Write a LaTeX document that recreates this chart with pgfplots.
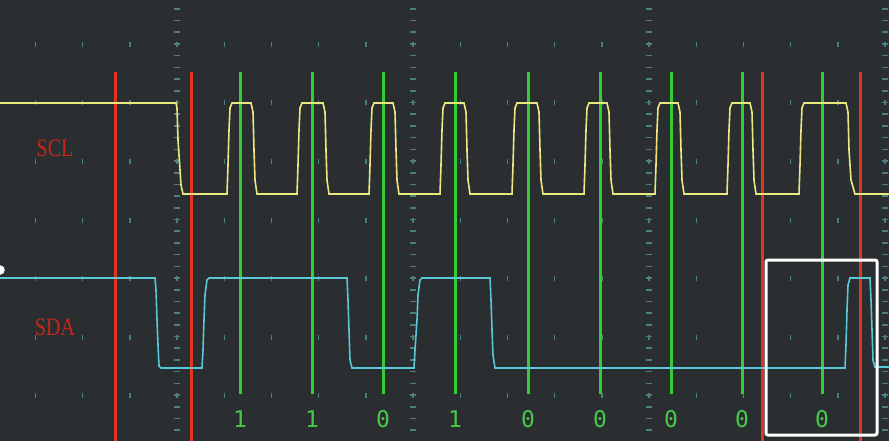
\documentclass[border=0pt]{standalone}
\usepackage{pgfplots}
\pgfplotsset{compat=1.18}
\usepackage{fontspec}
\setmainfont{Liberation Serif}
\newfontfamily\monofont{DejaVu Sans Mono}
\definecolor{bgc}{RGB}{42,46,48}
\definecolor{gridc}{RGB}{76,128,124}
\definecolor{sclc}{RGB}{236,232,128}
\definecolor{sdac}{RGB}{88,200,214}
\definecolor{redc}{RGB}{226,52,30}
\definecolor{greenc}{RGB}{52,206,52}
\definecolor{labred}{RGB}{200,38,30}
\definecolor{labgreen}{RGB}{72,200,72}
\begin{document}
\begin{tikzpicture}
\begin{axis}[width=889pt, height=441pt, scale only axis,
  xmin=0, xmax=889, ymin=0, ymax=441, y dir=reverse,
  axis line style={draw=none}, ticks=none,
  axis background/.style={fill=bgc},
  clip marker paths=true]
% minor grid ticks
\pgfplotsinvokeforeach{35.4,82.6,129.8,177,224.2,271.4,318.6,365.8,413,460.2,507.4,554.6,601.8,649,696.2,743.4,790.6,837.8,885}{
  \addplot[gridc, line width=1.4pt, dash pattern=on 5pt off 53.5pt] coordinates {(#1,-16.5) (#1,460)};
}
% major dashed lines
\pgfplotsinvokeforeach{177,413,649,885}{
  \addplot[gridc, line width=6pt, dash pattern=on 1.6pt off 10.1pt] coordinates {(#1,-3.6) (#1,460)};
}
% red cursors
\pgfplotsinvokeforeach{115,191,762,860}{
  \addplot[redc, line width=3pt] coordinates {(#1,72) (#1,445)};
}
% green sampling lines
\pgfplotsinvokeforeach{240,312,383,455,528,600,671,742,822}{
  \addplot[greenc, line width=3pt] coordinates {(#1,72) (#1,394)};
}
% SCL
\addplot[sclc, line width=1.6pt] coordinates {
(0,103) (176,103) (177,108) (178,140) (180,170) (181,185) (183,194)
(227,194) (228,165) (229,130) (230,108) (232,103) (251,103) (253,112) (254,150) (255,180) (257,194)
(297,194) (298,165) (299,130) (300,108) (302,103) (323,103) (325,112) (326,150) (327,180) (329,194)
(369,194) (370,165) (371,130) (372,108) (374,103) (393,103) (395,112) (396,150) (397,180) (399,194)
(440,194) (441,165) (442,130) (443,108) (445,103) (464,103) (466,112) (467,150) (468,180) (470,194)
(512,194) (513,165) (514,130) (515,108) (517,103) (537,103) (539,112) (540,150) (541,180) (543,194)
(584,194) (585,165) (586,130) (587,108) (589,103) (607,103) (609,112) (610,150) (611,180) (613,194)
(655,194) (656,165) (657,130) (658,108) (660,103) (678,103) (680,112) (681,150) (682,180) (684,194)
(727,194) (728,165) (729,130) (730,108) (732,103) (750,103) (752,112) (753,150) (754,180) (756,194)
(799,194) (800,165) (801,130) (802,108) (804,103) (846,103) (848,112) (849,150) (851,180) (855,194)
(889,194)};
% SDA
\addplot[sdac, line width=1.6pt] coordinates {
(0,278) (155,278) (156,290) (157,320) (158,345) (159,366) (161,368)
(202,368) (203,350) (204,320) (205,295) (207,280) (209,278)
(347,278) (348,300) (349,330) (350,360) (352,368)
(414,368) (415,350) (417,320) (418,295) (420,280) (422,278)
(490,278) (491,300) (492,330) (493,355) (495,368)
(845,368) (846,345) (847,310) (848,285) (850,278)
(870,278) (871,300) (872,330) (873,360) (875,367) (889,367)};
\addplot[only marks, mark=*, white, mark size=4.5pt] coordinates {(0,270)};
% labels
\node[labred, xscale=0.8, font=\fontsize{25}{25}\selectfont] at (axis cs:55,148) {SCL};
\node[labred, xscale=0.8, font=\fontsize{25}{25}\selectfont] at (axis cs:55,327) {SDA};
\pgfplotsinvokeforeach{240/1,312/1,383/0,455/1,528/0,600/0,671/0,742/0,822/0}{}
\node[labgreen, font=\monofont\fontsize{23}{23}\selectfont] at (axis cs:240,419) {1};
\node[labgreen, font=\monofont\fontsize{23}{23}\selectfont] at (axis cs:312,419) {1};
\node[labgreen, font=\monofont\fontsize{23}{23}\selectfont] at (axis cs:383,419) {0};
\node[labgreen, font=\monofont\fontsize{23}{23}\selectfont] at (axis cs:455,419) {1};
\node[labgreen, font=\monofont\fontsize{23}{23}\selectfont] at (axis cs:528,419) {0};
\node[labgreen, font=\monofont\fontsize{23}{23}\selectfont] at (axis cs:600,419) {0};
\node[labgreen, font=\monofont\fontsize{23}{23}\selectfont] at (axis cs:671,419) {0};
\node[labgreen, font=\monofont\fontsize{23}{23}\selectfont] at (axis cs:742,419) {0};
\node[labgreen, font=\monofont\fontsize{23}{23}\selectfont] at (axis cs:822,419) {0};
\draw[white, line width=3pt, rounded corners=2pt] (axis cs:766,260) rectangle (axis cs:877,435);
\end{axis}
\end{tikzpicture}
\end{document}
